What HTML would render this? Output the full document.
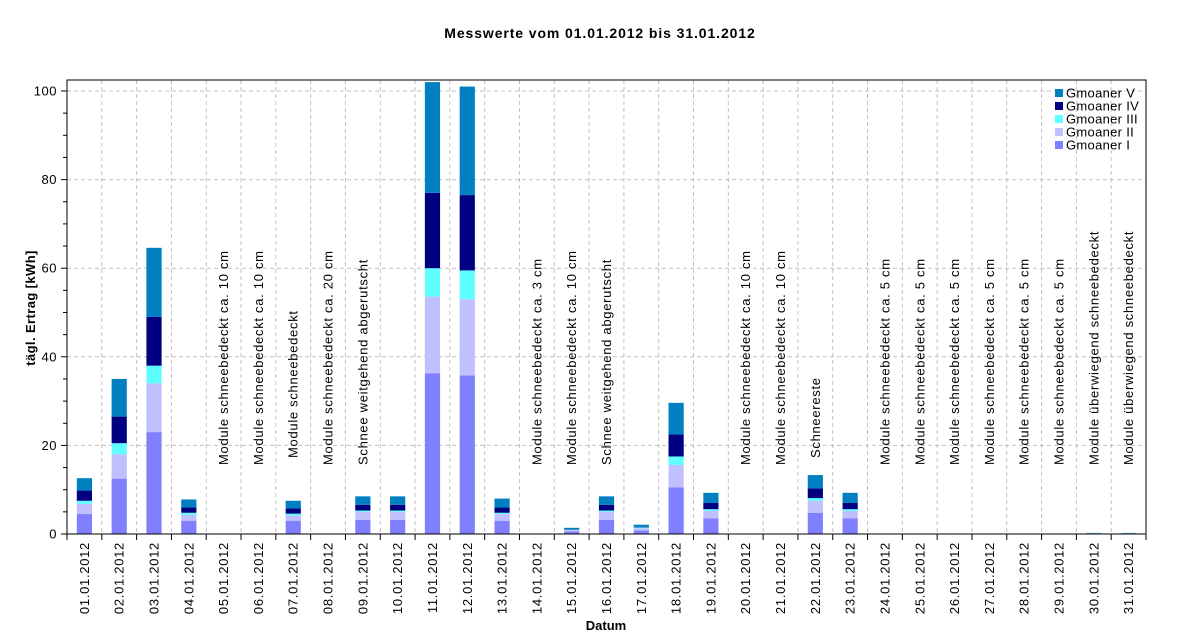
<!DOCTYPE html>
<html><head><meta charset="utf-8"><style>
body{margin:0;background:#fff}
svg{display:block;font-family:"Liberation Sans",Arial,sans-serif}
</style></head><body>
<svg id="c" width="1200" height="641" xmlns="http://www.w3.org/2000/svg"></svg>
<script>
const s=document.getElementById('c');
let h='';
const L=67,R=1146,T=80,B=534,cw=(R-L)/31,k=4.43;
const Y=v=>B-v*k;
h+=`<text x="600" y="38" font-size="14" font-weight="bold" letter-spacing="0.9" text-anchor="middle">Messwerte vom 01.01.2012 bis 31.01.2012</text>`;
for(let v=20;v<=100;v+=20)h+=`<line x1="${L}" x2="${R}" y1="${Y(v)}" y2="${Y(v)}" stroke="#c0c0c0" stroke-dasharray="4,3"/>`;
for(let i=1;i<31;i++){const x=L+i*cw;h+=`<line x1="${x}" x2="${x}" y1="${T}" y2="${B}" stroke="#c0c0c0" stroke-dasharray="4,3"/>`;}
const cols=['#8080ff','#c0c0ff','#60ffff','#000080','#0080c0'];
const d={1:[4.5,6.8,7.5,9.8,12.6],2:[12.5,18,20.5,26.5,35],3:[23,34,38,49,64.6],4:[3,4.3,4.8,6,7.8],7:[3,4.2,4.6,5.8,7.5],9:[3.2,5,5.3,6.6,8.5],10:[3.2,5,5.3,6.6,8.5],11:[36.3,53.6,60,77,102],12:[35.8,53,59.5,76.5,101],13:[3,4.5,4.8,6,8],15:[0.6,0.9,1,1.1,1.4],16:[3.2,5,5.3,6.6,8.5],17:[0.8,1.3,1.5,1.6,2.1],18:[10.5,15.6,17.5,22.5,29.6],19:[3.5,5.2,5.6,7,9.3],22:[4.8,7.5,8.1,10.3,13.3],23:[3.5,5.2,5.6,7,9.3],30:[0.1,0.15,0.18,0.2,0.25],31:[0.1,0.15,0.18,0.2,0.25]};
for(const day in d){const c=L+(day-0.5)*cw;let prev=0;d[day].forEach((v,j)=>{h+=`<rect x="${c-7.6}" y="${Y(v)}" width="15.2" height="${(v-prev)*k}" fill="${cols[j]}"/>`;prev=v;});}
const a={5:'Module schneebedeckt ca. 10 cm',6:'Module schneebedeckt ca. 10 cm',7:'Module schneebedeckt',8:'Module schneebedeckt ca. 20 cm',9:'Schnee weitgehend abgerutscht',14:'Module schneebedeckt ca. 3 cm',15:'Module schneebedeckt ca. 10 cm',16:'Schnee weitgehend abgerutscht',20:'Module schneebedeckt ca. 10 cm',21:'Module schneebedeckt ca. 10 cm',22:'Schneereste'};
for(let i=24;i<=29;i++)a[i]='Module schneebedeckt ca. 5 cm';
a[30]=a[31]='Module überwiegend schneebedeckt';
for(const day in a){const x=L+(day-0.5)*cw+4.5;const y=(day==7||day==22)?458:465;h+=`<text transform="translate(${x},${y}) rotate(-90)" font-size="13" letter-spacing="0.7">${a[day]}</text>`;}
h+=`<rect x="${L}" y="${T}" width="${R-L}" height="${B-T}" fill="none" stroke="#000"/>`;
for(let v=0;v<=100;v+=5){const y=Y(v);h+=`<line x1="${v%20?63:61}" x2="${L}" y1="${y}" y2="${y}" stroke="#000"/>`;if(v%20==0)h+=`<text x="57" y="${y+4.5}" font-size="13" letter-spacing="0.5" text-anchor="end">${v}</text>`;}
for(let i=0;i<=31;i++){const x=L+i*cw;h+=`<line x1="${x}" x2="${x}" y1="${B}" y2="${B+6}" stroke="#000"/>`;}
for(let i=1;i<=31;i++){const x=L+(i-0.5)*cw+4.5;h+=`<text transform="translate(${x},542) rotate(-90)" font-size="13" letter-spacing="0.7" text-anchor="end">${String(i).padStart(2,'0')}.01.2012</text>`;}
h+=`<text x="606" y="630" font-size="13" font-weight="bold" text-anchor="middle">Datum</text>`;
h+=`<text transform="translate(35,308) rotate(-90)" font-size="13" font-weight="bold" letter-spacing="0.4" text-anchor="middle">tägl. Ertrag [kWh]</text>`;
const ln=['Gmoaner V','Gmoaner IV','Gmoaner III','Gmoaner II','Gmoaner I'];
ln.forEach((t,i)=>{const y=93+i*13;h+=`<rect x="1055" y="${y-4}" width="8" height="8" fill="${cols[4-i]}"/><text x="1066" y="${y+4.5}" font-size="13" letter-spacing="0.3">${t}</text>`;});
s.innerHTML=h;
</script>
</body></html>
